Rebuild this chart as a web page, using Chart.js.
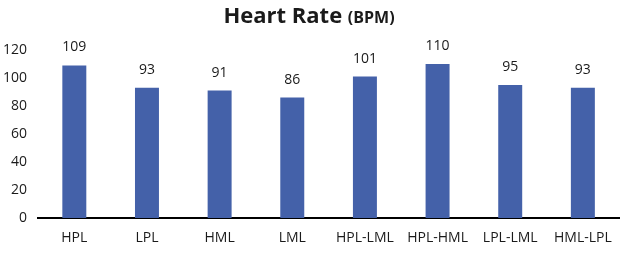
<!DOCTYPE html>
<html>
<head>
<meta charset="utf-8">
<script src="https://cdn.jsdelivr.net/npm/chart.js@4.4.1/dist/chart.umd.min.js"></script>
<style>
  html, body { margin: 0; padding: 0; background: #fff; }
  #wrap { width: 624px; height: 255px; position: relative; }
</style>
</head>
<body>
<div id="wrap"><canvas id="chart"></canvas></div>
<script>
const categories = ["HPL", "LPL", "HML", "LML", "HPL-LML", "HPL-HML", "LPL-LML", "HML-LPL"];
const heartRate = [109, 93, 91, 86, 101, 110, 95, 93];
const yTicks = [0, 20, 40, 60, 80, 100, 120];

const FONT = "'Open Sans', 'Noto Sans', sans-serif";
const TEXT = "#1a1a1a";

// title with a smaller "(BPM)" part
const titlePlugin = {
  id: "mixedTitle",
  afterDraw(chart) {
    const ctx = chart.ctx;
    const main = "Heart Rate ";
    const sub = "(BPM)";
    ctx.save();
    ctx.fillStyle = TEXT;
    ctx.textBaseline = "alphabetic";
    ctx.font = "bold 22px " + FONT;
    const w1 = ctx.measureText(main).width;
    ctx.font = "bold 16px " + FONT;
    const w2 = ctx.measureText(sub).width;
    const x0 = 309 - (w1 + w2) / 2;
    ctx.font = "bold 22px " + FONT;
    ctx.fillText(main, x0, 23);
    ctx.font = "bold 16px " + FONT;
    ctx.fillText(sub, x0 + w1, 23);
    ctx.restore();
  }
};

// value labels above bars
const valuePlugin = {
  id: "barValues",
  afterDatasetsDraw(chart) {
    const ctx = chart.ctx;
    const meta = chart.getDatasetMeta(0);
    ctx.save();
    ctx.fillStyle = TEXT;
    ctx.font = "14px " + FONT;
    ctx.textAlign = "center";
    ctx.textBaseline = "bottom";
    meta.data.forEach((bar, i) => {
      ctx.fillText(String(heartRate[i]), bar.x, bar.y - 11);
    });
    ctx.restore();
  }
};

new Chart(document.getElementById("chart"), {
  type: "bar",
  data: {
    labels: categories,
    datasets: [{
      label: "Heart Rate (BPM)",
      data: heartRate,
      backgroundColor: "#4461A9",
      borderWidth: 0,
      barPercentage: 0.66,
      categoryPercentage: 0.5
    }]
  },
  options: {
    responsive: true,
    maintainAspectRatio: false,
    animation: false,
    layout: { padding: { top: 50, right: 4, left: 0, bottom: 0 } },
    scales: {
      x: {
        grid: { display: false, drawTicks: false },
        border: { display: true, color: "#000", width: 2 },
        ticks: {
          color: TEXT,
          font: { family: FONT, size: 14 },
          padding: 12,
          maxRotation: 0,
          autoSkip: false
        },
        afterFit(scale) { scale.height = 37; }
      },
      y: {
        min: 0,
        max: 120,
        grid: { display: false, drawTicks: false },
        border: { display: false },
        afterBuildTicks(scale) { scale.ticks = yTicks.map(v => ({ value: v })); },
        ticks: {
          color: TEXT,
          font: { family: FONT, size: 14 },
          padding: 11
        },
        afterFit(scale) { scale.width = 38; }
      }
    },
    plugins: {
      legend: { display: false },
      title: { display: false },
      tooltip: { enabled: false }
    }
  },
  plugins: [titlePlugin, valuePlugin]
});
</script>
</body>
</html>
